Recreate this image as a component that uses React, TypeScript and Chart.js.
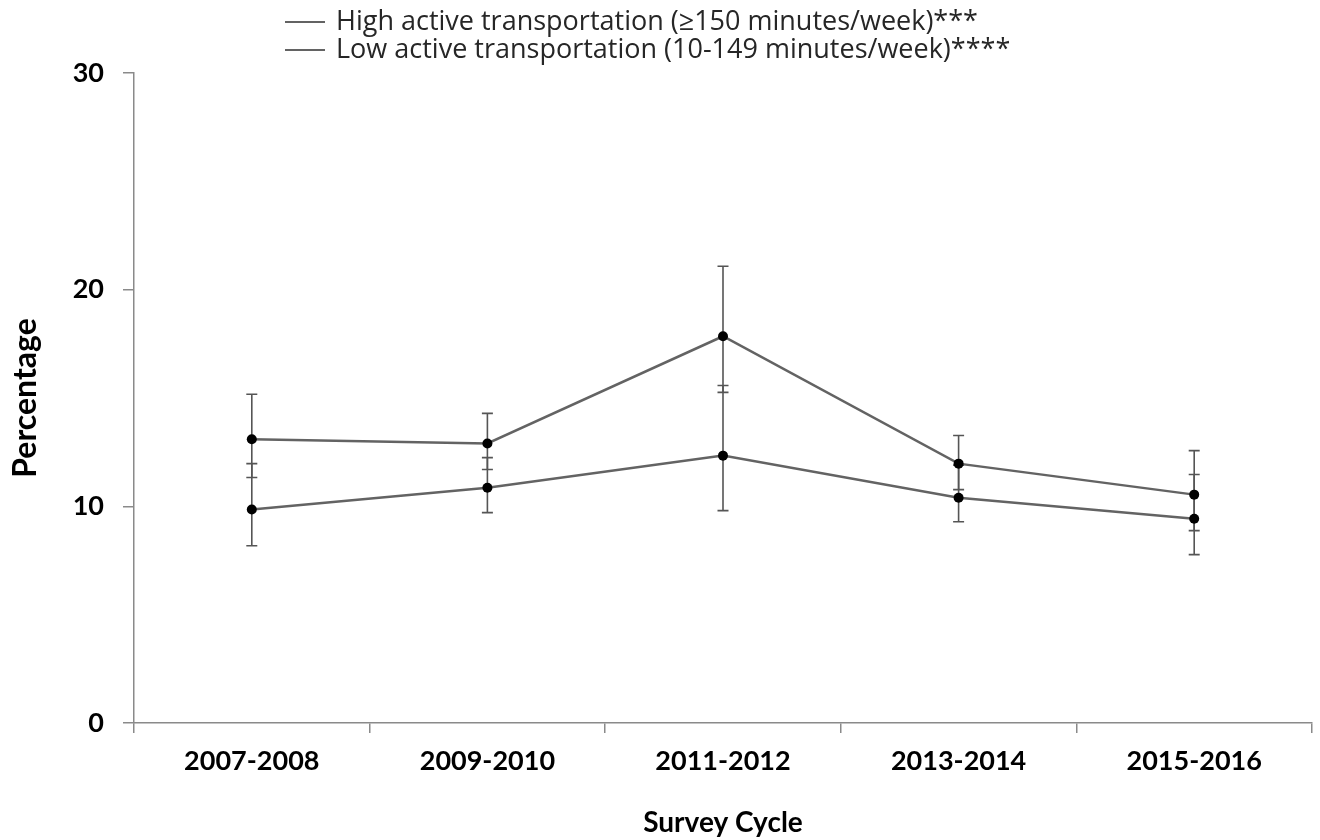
import React, { useEffect, useRef } from "react";
import { Chart, registerables } from "chart.js";

Chart.register(...registerables);

const categories = ["2007-2008", "2009-2010", "2011-2012", "2013-2014", "2015-2016"];
const seriesNames = [
  "High active transportation (≥150 minutes/week)***",
  "Low active transportation (10-149 minutes/week)****",
];
const highValues = [13.1, 12.9, 17.85, 11.97, 10.54];
const highLower = [11.33, 11.7, 15.26, 10.77, 8.88];
const highUpper = [15.17, 14.29, 21.08, 13.27, 12.57];
const lowValues = [9.85, 10.86, 12.34, 10.4, 9.43];
const lowLower = [8.18, 9.71, 9.8, 9.29, 7.77];
const lowUpper = [11.97, 12.25, 15.58, 11.9, 11.47];
const yTicks = [0, 10, 20, 30];

const lowerBounds = [highLower, lowLower];
const upperBounds = [highUpper, lowUpper];

const LINE = "#636363";
const AXIS = "#8a8a8a";
const FONT = "Lato";

const errorBarPlugin = {
  id: "errorBars",
  beforeDatasetsDraw(chart: any) {
    const { ctx, scales } = chart;
    const xs = scales.x;
    const ys = scales.y;
    ctx.save();
    ctx.strokeStyle = "#555555";
    ctx.lineWidth = 1.6;
    chart.data.datasets.forEach((_ds: any, di: number) => {
      categories.forEach((_c, i) => {
        const x = xs.getPixelForValue(i);
        const y1 = ys.getPixelForValue(lowerBounds[di][i]);
        const y2 = ys.getPixelForValue(upperBounds[di][i]);
        ctx.beginPath();
        ctx.moveTo(x, y1);
        ctx.lineTo(x, y2);
        ctx.moveTo(x - 5.5, y1);
        ctx.lineTo(x + 5.5, y1);
        ctx.moveTo(x - 5.5, y2);
        ctx.lineTo(x + 5.5, y2);
        ctx.stroke();
      });
    });
    ctx.restore();
  },
};

const legendPlugin = {
  id: "customLegend",
  afterDraw(chart: any) {
    const { ctx } = chart;
    ctx.save();
    chart.data.datasets.forEach((ds: any, i: number) => {
      const y = 22 + i * 28;
      ctx.strokeStyle = LINE;
      ctx.lineWidth = 2;
      ctx.beginPath();
      ctx.moveTo(285, y);
      ctx.lineTo(325, y);
      ctx.stroke();
      ctx.fillStyle = "#262626";
      ctx.font = `27px "Open Sans"`;
      ctx.textBaseline = "middle";
      ctx.textAlign = "left";
      ctx.fillText(ds.label, 336, y);
    });
    ctx.restore();
  },
};

export default function App() {
  const ref = useRef<HTMLCanvasElement | null>(null);

  useEffect(() => {
    document.body.style.margin = "0";
    const canvas = ref.current;
    if (!canvas) return;
    const makeDs = (label: string, data: number[]) => ({
      label,
      data,
      borderColor: LINE,
      borderWidth: 2.5,
      pointBackgroundColor: "#000",
      pointBorderColor: "#000",
      pointRadius: 5,
      pointBorderWidth: 0,
      tension: 0,
      fill: false,
    });
    const chart = new Chart(canvas, {
      type: "line",
      data: {
        labels: categories,
        datasets: [makeDs(seriesNames[0], highValues), makeDs(seriesNames[1], lowValues)],
      },
      options: {
        responsive: false,
        animation: false,
        layout: { padding: { top: 73, right: 8, left: 0, bottom: 0 } },
        plugins: {
          legend: { display: false },
          tooltip: { enabled: false },
        },
        scales: {
          x: {
            type: "category",
            offset: true,
            grid: {
              offset: true,
              drawOnChartArea: false,
              drawTicks: true,
              tickLength: 10,
              color: AXIS,
              lineWidth: 1.5,
            },
            border: { color: AXIS, width: 1.5 },
            ticks: {
              color: "#000",
              font: { family: FONT, size: 27, weight: "bold" },
              padding: 12,
              maxRotation: 0,
            },
            title: {
              display: true,
              text: "Survey Cycle",
              color: "#000",
              font: { family: FONT, size: 28, weight: "bold" },
              padding: { top: 0, bottom: 0 },
            },
            afterFit: (s: any) => {
              s.height = 117;
            },
          },
          y: {
            min: 0,
            max: 30,
            afterBuildTicks: (s: any) => {
              s.ticks = yTicks.map((v) => ({ value: v }));
            },
            grid: {
              drawOnChartArea: false,
              drawTicks: true,
              tickLength: 11,
              color: AXIS,
              lineWidth: 1.5,
            },
            border: { color: AXIS, width: 1.5 },
            ticks: {
              color: "#000",
              font: { family: FONT, size: 27, weight: "bold" },
              padding: 19,
            },
            title: {
              display: true,
              text: "Percentage",
              color: "#000",
              font: { family: FONT, size: 32, weight: "bold" },
              padding: { top: 6, bottom: 0 },
            },
            afterFit: (s: any) => {
              s.width = 134;
            },
          },
        },
      },
      plugins: [errorBarPlugin, legendPlugin],
    });
    return () => chart.destroy();
  }, []);

  return (
    <div style={{ width: 1320, height: 840 }}>
      <canvas ref={ref} width={1320} height={840} style={{ display: "block" }} />
    </div>
  );
}
